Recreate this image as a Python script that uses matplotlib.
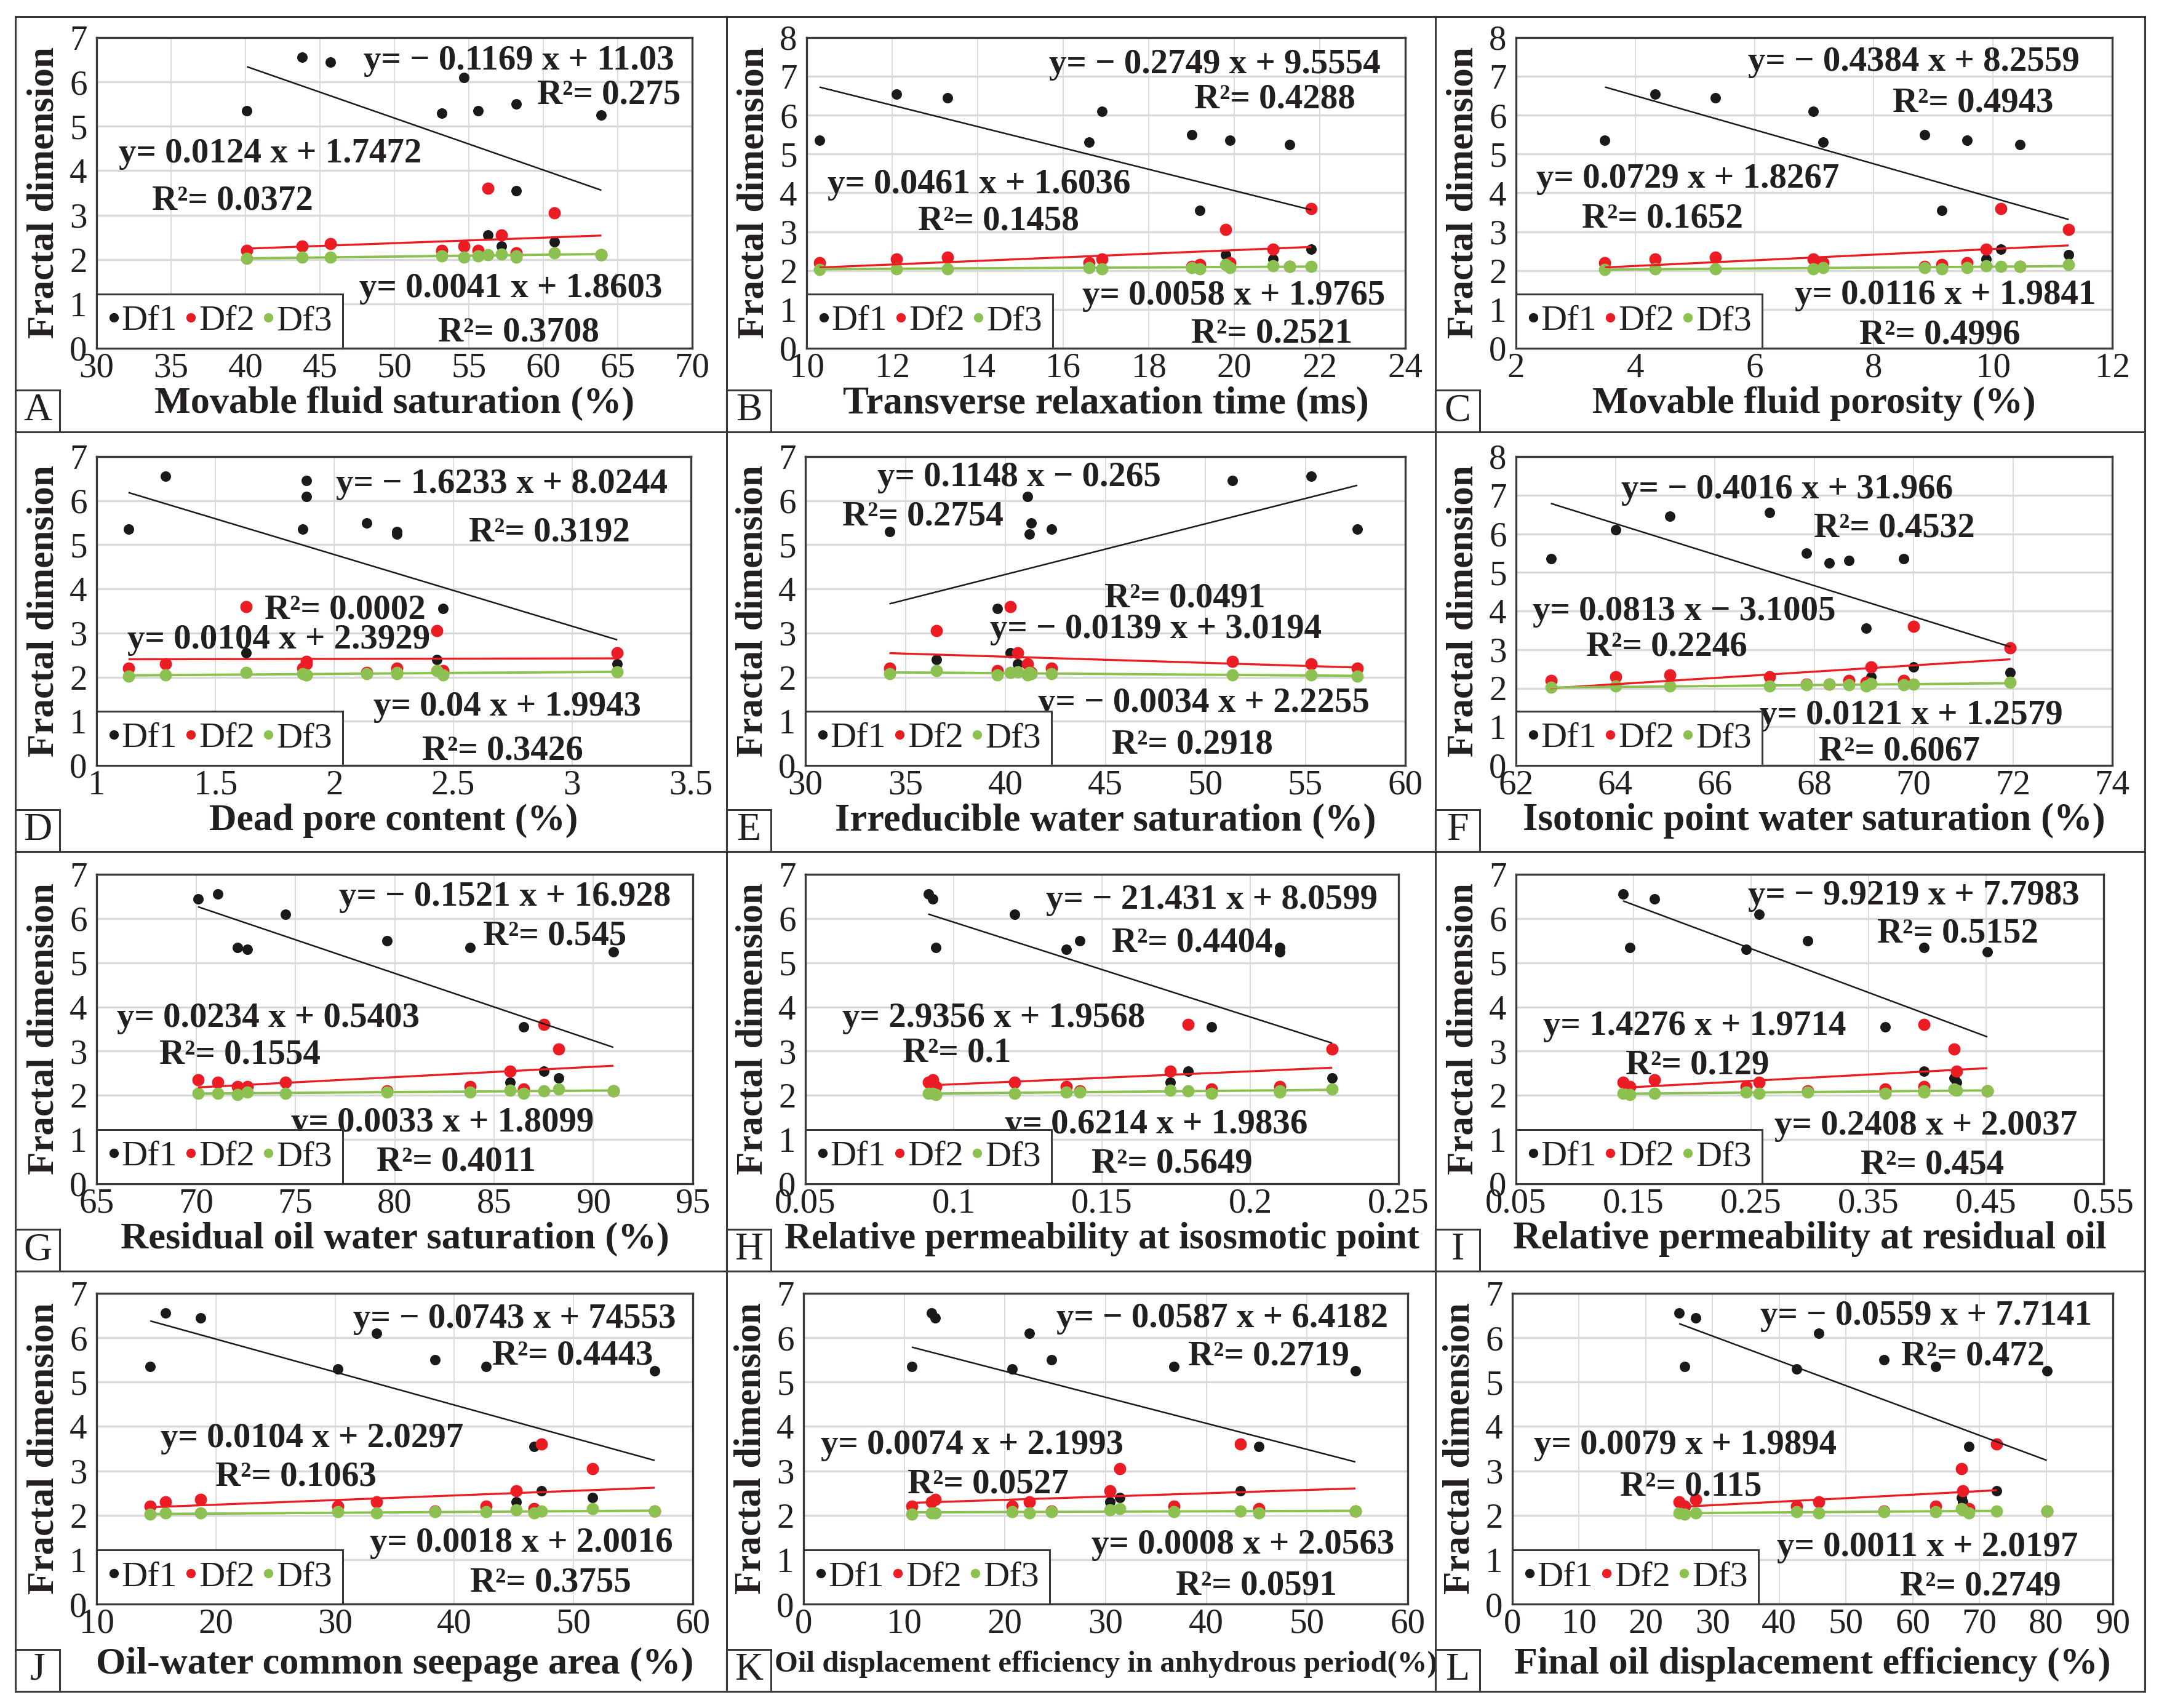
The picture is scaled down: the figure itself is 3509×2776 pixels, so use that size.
import numpy as np
import matplotlib
matplotlib.use("Agg")
import matplotlib.pyplot as plt
from matplotlib.lines import Line2D
from matplotlib.patches import Rectangle
from matplotlib.ticker import FuncFormatter

# Fractal dimensions of the 12 core samples (same samples in every panel)
df1 = [5.35, 6.55, 6.45, 5.30, 6.10, 5.50, 3.55, 2.40, 5.35, 2.30, 5.25, 2.55]
df2 = [2.20, 2.30, 2.35, 2.20, 2.30, 2.10, 2.15, 3.05, 2.20, 2.55, 2.10, 3.60]
df3 = [2.02, 2.05, 2.05, 2.08, 2.05, 2.08, 2.05, 2.15, 2.08, 2.12, 2.10, 2.10]

# x value of each sample, one list per panel (A..L)
x_a = [40.1, 43.8, 45.7, 53.2, 54.65, 58.2, 58.2, 60.75, 55.6, 57.2, 63.9, 56.3]
x_b = [10.3, 12.1, 13.3, 16.6, 16.9, 19.0, 19.2, 19.8, 19.9, 20.9, 21.3, 21.8]
x_c = [3.49, 4.33, 5.34, 7.15, 6.98, 8.85, 9.14, 11.27, 9.56, 9.88, 10.45, 10.13]
x_d = [1.134, 1.289, 1.882, 2.263, 1.882, 2.135, 2.457, 2.43, 1.867, 3.19, 2.263, 1.628]
x_e = [57.6, 55.3, 51.35, 34.2, 41.1, 41.3, 39.6, 36.55, 42.3, 40.6, 41.2, 40.25]
x_f = [62.7, 67.1, 65.1, 68.7, 64.0, 67.85, 69.05, 71.95, 69.8, 69.15, 68.3, 70.0]
x_g = [72.1, 71.1, 70.1, 72.6, 74.5, 79.6, 86.5, 88.25, 83.8, 85.8, 91.0, 87.5]
x_h = [0.094, 0.0914, 0.093, 0.138, 0.1206, 0.1426, 0.187, 0.2276, 0.210, 0.173, 0.210, 0.179]
x_i = [0.147, 0.141, 0.168, 0.246, 0.257, 0.298, 0.364, 0.423, 0.397, 0.425, 0.451, 0.397]
x_j = [14.5, 15.8, 18.7, 30.25, 33.5, 38.4, 46.7, 51.6, 42.65, 45.2, 56.8, 47.3]
x_k = [10.75, 12.7, 13.1, 20.7, 22.4, 24.6, 45.2, 31.4, 36.8, 30.4, 54.8, 43.4]
x_l = [25.8, 25.0, 27.5, 42.6, 45.9, 55.7, 68.4, 67.3, 63.4, 67.5, 80.1, 72.6]
panel_x = [x_a, x_b, x_c, x_d, x_e, x_f, x_g, x_h, x_i, x_j, x_k, x_l]

panel_letters = ["A", "B", "C", "D", "E", "F", "G", "H", "I", "J", "K", "L"]
x_labels = ["Movable fluid saturation (%)", "Transverse relaxation time (ms)",
            "Movable fluid porosity (%)", "Dead pore content (%)",
            "Irreducible water saturation (%)", "Isotonic point water saturation (%)",
            "Residual oil water saturation (%)", "Relative permeability at isosmotic point",
            "Relative permeability at residual oil", "Oil-water common seepage area (%)",
            "Oil displacement efficiency in anhydrous period(%)",
            "Final oil displacement efficiency (%)"]
x_ticks = [(30, 70, 5), (10, 24, 2), (2, 12, 2), (1, 3.5, 0.5), (30, 60, 5), (62, 74, 2),
           (65, 95, 5), (0.05, 0.25, 0.05), (0.05, 0.55, 0.1), (10, 60, 10), (0, 60, 10), (0, 90, 10)]
y_tops = [7, 8, 8, 7, 7, 8, 7, 7, 7, 7, 7, 7]

# linear trend lines (slope, intercept)
fit_df1 = [(-0.1169, 11.03), (-0.2749, 9.5554), (-0.4384, 8.2559), (-1.6233, 8.0244),
           (0.1148, -0.265), (-0.4016, 31.966), (-0.1521, 16.928), (-21.431, 8.0599),
           (-9.9219, 7.7983), (-0.0743, 7.4553), (-0.0587, 6.4182), (-0.0559, 7.7141)]
fit_df2 = [(0.0124, 1.7472), (0.0461, 1.6036), (0.0729, 1.8267), (0.0104, 2.3929),
           (-0.0139, 3.0194), (0.0813, -3.1005), (0.0234, 0.5403), (2.9356, 1.9568),
           (1.4276, 1.9714), (0.0104, 2.0297), (0.0074, 2.1993), (0.0079, 1.9894)]
fit_df3 = [(0.0041, 1.8603), (0.0058, 1.9765), (0.0116, 1.9841), (0.04, 1.9943),
           (-0.0034, 2.2255), (0.0121, 1.2579), (0.0033, 1.8099), (0.6214, 1.9836),
           (0.2408, 2.0037), (0.0018, 2.0016), (0.0008, 2.0563), (0.0011, 2.0197)]
# panel L: Df2/Df3 trend lines stop early
fit_end_23 = {11: 72.6}

eq_df1 = ["y= − 0.1169 x + 11.03", "y= − 0.2749 x + 9.5554", "y= − 0.4384 x + 8.2559",
          "y= − 1.6233 x + 8.0244", "y= 0.1148 x − 0.265", "y= − 0.4016 x + 31.966",
          "y= − 0.1521 x + 16.928", "y= − 21.431 x + 8.0599", "y= − 9.9219 x + 7.7983",
          "y= − 0.0743 x + 74553", "y= − 0.0587 x + 6.4182", "y= − 0.0559 x + 7.7141"]
r2_df1 = ["0.275", "0.4288", "0.4943", "0.3192", "0.2754", "0.4532",
          "0.545", "0.4404", "0.5152", "0.4443", "0.2719", "0.472"]
eq_df2 = ["y= 0.0124 x + 1.7472", "y= 0.0461 x + 1.6036", "y= 0.0729 x + 1.8267",
          "y= 0.0104 x + 2.3929", "y= − 0.0139 x + 3.0194", "y= 0.0813 x − 3.1005",
          "y= 0.0234 x + 0.5403", "y= 2.9356 x + 1.9568", "y= 1.4276 x + 1.9714",
          "y= 0.0104 x + 2.0297", "y= 0.0074 x + 2.1993", "y= 0.0079 x + 1.9894"]
r2_df2 = ["0.0372", "0.1458", "0.1652", "0.0002", "0.0491", "0.2246",
          "0.1554", "0.1", "0.129", "0.1063", "0.0527", "0.115"]
eq_df3 = ["y= 0.0041 x + 1.8603", "y= 0.0058 x + 1.9765", "y= 0.0116 x + 1.9841",
          "y= 0.04 x + 1.9943", "y= − 0.0034 x + 2.2255", "y= 0.0121 x + 1.2579",
          "y= 0.0033 x + 1.8099", "y= 0.6214 x + 1.9836", "y= 0.2408 x + 2.0037",
          "y= 0.0018 x + 2.0016", "y= 0.0008 x + 2.0563", "y= 0.0011 x + 2.0197"]
r2_df3 = ["0.3708", "0.2521", "0.4996", "0.3426", "0.2918", "0.6067",
          "0.4011", "0.5649", "0.454", "0.3755", "0.0591", "0.2749"]

# label centres in axes fraction: eq1, R1, eq2, R2, eq3, R3
label_pos = [
    [(0.709, 0.936), (0.860, 0.825), (0.292, 0.637), (0.228, 0.484), (0.695, 0.202), (0.709, 0.061)],
    [(0.682, 0.924), (0.782, 0.811), (0.288, 0.537), (0.321, 0.419), (0.713, 0.179), (0.777, 0.057)],
    [(0.667, 0.932), (0.767, 0.800), (0.288, 0.556), (0.246, 0.428), (0.720, 0.181), (0.711, 0.053)],
    [(0.682, 0.922), (0.762, 0.765), (0.307, 0.417), (0.418, 0.513), (0.691, 0.200), (0.683, 0.057)],
    [(0.356, 0.943), (0.196, 0.817), (0.584, 0.451), (0.633, 0.551), (0.664, 0.212), (0.645, 0.077)],
    [(0.455, 0.904), (0.635, 0.778), (0.282, 0.508), (0.253, 0.394), (0.663, 0.172), (0.643, 0.055)],
    [(0.685, 0.937), (0.768, 0.811), (0.288, 0.546), (0.240, 0.427), (0.580, 0.207), (0.603, 0.081)],
    [(0.685, 0.927), (0.652, 0.789), (0.318, 0.546), (0.255, 0.433), (0.591, 0.202), (0.618, 0.076)],
    [(0.677, 0.941), (0.752, 0.819), (0.304, 0.520), (0.309, 0.394), (0.697, 0.198), (0.708, 0.072)],
    [(0.701, 0.928), (0.799, 0.810), (0.361, 0.543), (0.334, 0.420), (0.712, 0.206), (0.762, 0.079)],
    [(0.693, 0.929), (0.770, 0.807), (0.279, 0.521), (0.305, 0.395), (0.727, 0.201), (0.749, 0.069)],
    [(0.689, 0.938), (0.767, 0.808), (0.288, 0.521), (0.297, 0.388), (0.691, 0.193), (0.780, 0.068)],
]
xlabel_width = [780, 854, 721, 600, 880, 947, 891, 1032, 965, 972, 1076, 969]

# layout in pixels
FIG_W, FIG_H = 3509, 2776
ax_lr = [(157, 1125), (1311, 2284), (2464, 3433), (157, 1123), (1309, 2284), (2464, 3433),
         (157, 1126), (1309, 2273), (2464, 3419), (157, 1126), (1306, 2288), (2458, 3434)]
row_tb = [(61, 566), (742, 1244), (1421, 1924), (2102, 2607)]
cell_x = [25, 1181, 2333, 3486]
cell_y = [27, 702, 1384, 2066, 2749]

C_TEXT = "#231f20"
C_DF = ["#1a1a1a", "#ec1c24", "#8cc152"]
EDGE = "#3a3a3a"
FS_TICK = 41
FS_EQ = 41


def px_rect(l, t, r, b):
    return [l / FIG_W, 1 - b / FIG_H, (r - l) / FIG_W, (b - t) / FIG_H]


def fig_line(fig, x0, y0, x1, y1):
    fig.add_artist(Line2D([x0 / FIG_W, x1 / FIG_W], [1 - y0 / FIG_H, 1 - y1 / FIG_H],
                          transform=fig.transFigure, color=EDGE, lw=2.2))


plt.rcParams.update({"font.family": ["Liberation Serif", "DejaVu Serif"],
                     "text.color": C_TEXT, "axes.unicode_minus": True})
fig = plt.figure(figsize=(FIG_W / 100, FIG_H / 100), dpi=100)
fig.patch.set_facecolor("white")

xlabel_texts = []
for i in range(12):
    row, col = divmod(i, 3)
    l, r = ax_lr[i]
    t, b = row_tb[row]
    ax = fig.add_axes(px_rect(l, t, r, b))
    xs = np.array(panel_x[i])
    x0, x1, step = x_ticks[i]

    # trend lines
    for k, (fit, c, lw) in enumerate(zip([fit_df1[i], fit_df2[i], fit_df3[i]], C_DF, [1.8, 2.4, 2.8])):
        xe = fit_end_23.get(i, xs.max()) if k > 0 else xs.max()
        xx = np.array([xs.min(), xe])
        ax.plot(xx, fit[0] * xx + fit[1], color=c, lw=lw, zorder=4, solid_capstyle="butt")
    # points
    for vals, c, s in zip([df1, df2, df3], C_DF, [150, 205, 205]):
        ax.scatter(xs, vals, s=s, color=c, linewidths=0, zorder=3)

    ax.set_xlim(x0, x1)
    ax.set_ylim(0, y_tops[i])
    ax.set_xticks(np.arange(x0, x1 + step / 2, step))
    ax.set_yticks(np.arange(0, y_tops[i] + 1, 1))
    ax.xaxis.set_major_formatter(FuncFormatter(lambda v, p: f"{round(v, 4):g}"))
    ax.tick_params(length=0, labelsize=FS_TICK, labelcolor=C_TEXT)
    ax.tick_params(axis="y", pad=11)
    ax.tick_params(axis="x", pad=5)
    ax.set_axisbelow(True)
    ax.grid(axis="y", color="#d9d9d9", lw=2.4)
    ax.grid(axis="x", color="#dcdcdc", lw=1.4)
    for sp in ax.spines.values():
        sp.set_color(EDGE)
        sp.set_linewidth(2.4)

    # equations
    texts = [eq_df1[i], "R²= " + r2_df1[i], eq_df2[i], "R²= " + r2_df2[i],
             eq_df3[i], "R²= " + r2_df3[i]]
    for (fx, fy), txt in zip(label_pos[i], texts):
        ax.annotate(txt, xy=(fx, fy), xycoords="axes fraction", xytext=(0, -0.34 * FS_EQ),
                    textcoords="offset points", ha="center", va="baseline",
                    fontsize=FS_EQ, fontweight="bold", zorder=6)

    # legend
    handles = [Line2D([], [], ls="none", marker="o", ms=10, color=c) for c in C_DF]
    leg = ax.legend(handles, ["Df1", "Df2", "Df3"], loc="lower left", bbox_to_anchor=(0, 0),
                    borderaxespad=0, ncol=3, handlelength=0.35, handletextpad=0.05,
                    columnspacing=0.2, borderpad=0.3, fontsize=42, frameon=True,
                    fancybox=False, framealpha=1, edgecolor=EDGE)
    leg.get_frame().set_linewidth(2.2)
    leg.set_zorder(7)

    # axis labels
    ax.annotate("Fractal dimension", xy=(0, 0.5), xycoords="axes fraction",
                xytext=(-86 * 0.72, 0), textcoords="offset points", rotation=90,
                ha="center", va="center", fontsize=44, fontweight="bold")
    off = 98 if row == 3 else 90
    xl = ax.annotate(x_labels[i], xy=(0.5, 0), xycoords="axes fraction",
                     xytext=(0, -off * 0.72), textcoords="offset points",
                     ha="center", va="center", fontsize=43, fontweight="bold")
    xlabel_texts.append(xl)

    # panel letter box
    bx, by = cell_x[col], cell_y[row + 1]
    fig.add_artist(Rectangle((bx / FIG_W, 1 - by / FIG_H), 72 / FIG_W, 68 / FIG_H,
                             transform=fig.transFigure, facecolor="white",
                             edgecolor=EDGE, lw=2.2))
    fig.text((bx + 36) / FIG_W, 1 - (by - 34) / FIG_H, panel_letters[i], ha="center",
             va="center", fontsize=46)

# fit x label widths
fig.canvas.draw()
renderer = fig.canvas.get_renderer()
for xl, target in zip(xlabel_texts, xlabel_width):
    w = xl.get_window_extent(renderer).width
    xl.set_fontsize(min(46, 43 * target / w))

# outer frame and cell separators
fig_line(fig, cell_x[0], cell_y[0], cell_x[-1], cell_y[0])
fig_line(fig, cell_x[0], cell_y[-1], cell_x[-1], cell_y[-1])
for yy in cell_y[1:-1]:
    fig_line(fig, cell_x[0], yy, cell_x[-1], yy)
for xx in cell_x:
    fig_line(fig, xx, cell_y[0], xx, cell_y[-1])

fig.savefig("out.png", dpi=100, facecolor="white")
